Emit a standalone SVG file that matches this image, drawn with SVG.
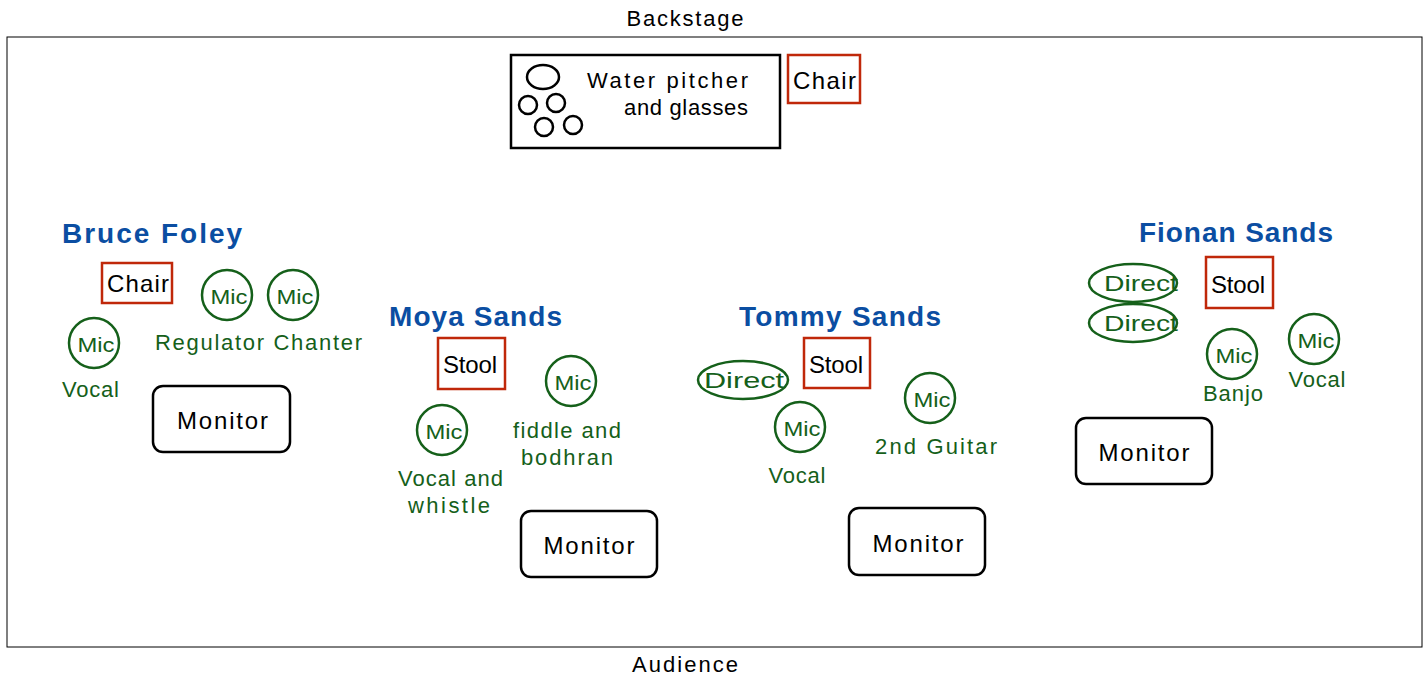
<svg xmlns="http://www.w3.org/2000/svg" width="1425" height="677" viewBox="0 0 1425 677">
<style>
text{font-family:"Liberation Sans","DejaVu Sans",sans-serif;}
.lbl{font-size:22px;fill:#000;text-anchor:middle;}
.name{font-size:28px;font-weight:bold;fill:#0b4ea2;}
.g{font-size:22px;fill:#15601a;text-anchor:middle;}
.mic{fill:none;stroke:#15601a;stroke-width:2.5;}
.mt{font-size:21px;fill:#15601a;text-anchor:middle;}
.dt{font-size:22px;fill:#15601a;text-anchor:middle;}
.furn{fill:#fff;stroke:#c0280a;stroke-width:2.5;}
.mon{fill:#fff;stroke:#000;stroke-width:2.5;}
.glass{fill:none;stroke:#000;stroke-width:2.5;}
</style>
<rect width="1425" height="677" fill="#fff"/>
<rect x="7" y="37" width="1415" height="610" fill="none" stroke="#000" stroke-width="1"/>
<text class="lbl" x="685" y="26" textLength="117" lengthAdjust="spacing">Backstage</text>
<text class="lbl" x="685" y="672" textLength="106" lengthAdjust="spacing">Audience</text>

<g id="water">
<rect x="511" y="55" width="269" height="93" fill="#fff" stroke="#000" stroke-width="2.5"/>
<ellipse class="glass" cx="543" cy="77" rx="16" ry="12"/>
<circle class="glass" cx="528" cy="105" r="9"/>
<circle class="glass" cx="556" cy="103" r="9"/>
<circle class="glass" cx="544" cy="127" r="9"/>
<circle class="glass" cx="573" cy="125" r="9"/>
<text class="lbl" x="667.5" y="88" textLength="161" lengthAdjust="spacing">Water pitcher</text>
<text class="lbl" x="686" y="115" textLength="124" lengthAdjust="spacing">and glasses</text>
</g>
<g id="chair-top">
<rect class="furn" x="788" y="55" width="72" height="48"/>
<text class="lbl" x="824.5" y="89" style="font-size:24px" textLength="63" lengthAdjust="spacing">Chair</text>
</g>

<g id="bruce">
<text class="name" x="62" y="243" textLength="180" lengthAdjust="spacing">Bruce Foley</text>
<rect class="furn" x="102" y="263" width="70" height="40"/>
<text class="lbl" x="138" y="292" style="font-size:24px" textLength="62" lengthAdjust="spacing">Chair</text>
<circle class="mic" cx="227" cy="295" r="25"/><text class="mt" x="229" y="304" textLength="37" lengthAdjust="spacingAndGlyphs">Mic</text>
<circle class="mic" cx="293" cy="295" r="25"/><text class="mt" x="295" y="304" textLength="37" lengthAdjust="spacingAndGlyphs">Mic</text>
<text class="g" x="258.5" y="350" textLength="207" lengthAdjust="spacing">Regulator Chanter</text>
<circle class="mic" cx="94" cy="343" r="25"/><text class="mt" x="96" y="352" textLength="37" lengthAdjust="spacingAndGlyphs">Mic</text>
<text class="g" x="90.5" y="397" textLength="57" lengthAdjust="spacing">Vocal</text>
<rect class="mon" x="153" y="386" width="137" height="66" rx="10"/>
<text class="lbl" x="222.5" y="429" style="font-size:24px" textLength="91" lengthAdjust="spacing">Monitor</text>
</g>

<g id="moya">
<text class="name" x="389" y="326" textLength="173" lengthAdjust="spacing">Moya Sands</text>
<rect class="furn" x="438" y="338" width="67" height="51"/>
<text class="lbl" x="470" y="373" style="font-size:24px" textLength="54" lengthAdjust="spacing">Stool</text>
<circle class="mic" cx="571" cy="381" r="25"/><text class="mt" x="573" y="390" textLength="37" lengthAdjust="spacingAndGlyphs">Mic</text>
<text class="g" x="567" y="438" textLength="108" lengthAdjust="spacing">fiddle and</text>
<text class="g" x="567" y="465" textLength="92" lengthAdjust="spacing">bodhran</text>
<circle class="mic" cx="442" cy="430" r="25"/><text class="mt" x="444" y="439" textLength="37" lengthAdjust="spacingAndGlyphs">Mic</text>
<text class="g" x="450.5" y="486" textLength="105" lengthAdjust="spacing">Vocal and</text>
<text class="g" x="449" y="513" textLength="82" lengthAdjust="spacing">whistle</text>
<rect class="mon" x="521" y="511" width="136" height="66" rx="10"/>
<text class="lbl" x="589" y="554" style="font-size:24px" textLength="91" lengthAdjust="spacing">Monitor</text>
</g>

<g id="tommy">
<text class="name" x="739" y="326" textLength="202" lengthAdjust="spacing">Tommy Sands</text>
<rect class="furn" x="804" y="338" width="66" height="50"/>
<text class="lbl" x="836" y="373" style="font-size:24px" textLength="54" lengthAdjust="spacing">Stool</text>
<ellipse class="mic" cx="743" cy="380" rx="45" ry="19"/><text class="dt" x="744" y="388" textLength="80" lengthAdjust="spacingAndGlyphs">Direct</text>
<circle class="mic" cx="800" cy="427" r="25"/><text class="mt" x="802" y="436" textLength="37" lengthAdjust="spacingAndGlyphs">Mic</text>
<text class="g" x="797" y="483" textLength="57" lengthAdjust="spacing">Vocal</text>
<circle class="mic" cx="930" cy="398" r="25"/><text class="mt" x="932" y="407" textLength="37" lengthAdjust="spacingAndGlyphs">Mic</text>
<text class="g" x="936" y="454" textLength="122" lengthAdjust="spacing">2nd Guitar</text>
<rect class="mon" x="849" y="508" width="136" height="67" rx="10"/>
<text class="lbl" x="918" y="552" style="font-size:24px" textLength="91" lengthAdjust="spacing">Monitor</text>
</g>

<g id="fionan">
<text class="name" x="1139" y="242" textLength="194" lengthAdjust="spacing">Fionan Sands</text>
<rect class="furn" x="1206" y="257" width="67" height="51"/>
<text class="lbl" x="1238" y="293" style="font-size:24px" textLength="54" lengthAdjust="spacing">Stool</text>
<ellipse class="mic" cx="1133" cy="283" rx="44" ry="19"/><text class="dt" x="1141" y="291" textLength="74" lengthAdjust="spacingAndGlyphs">Direct</text>
<ellipse class="mic" cx="1133" cy="323" rx="44" ry="19"/><text class="dt" x="1141" y="331" textLength="74" lengthAdjust="spacingAndGlyphs">Direct</text>
<circle class="mic" cx="1232" cy="354" r="25"/><text class="mt" x="1234" y="363" textLength="37" lengthAdjust="spacingAndGlyphs">Mic</text>
<text class="g" x="1233" y="401" textLength="60" lengthAdjust="spacing">Banjo</text>
<circle class="mic" cx="1314" cy="339" r="25"/><text class="mt" x="1316" y="348" textLength="37" lengthAdjust="spacingAndGlyphs">Mic</text>
<text class="g" x="1317" y="387" textLength="57" lengthAdjust="spacing">Vocal</text>
<rect class="mon" x="1076" y="418" width="136" height="66" rx="10"/>
<text class="lbl" x="1144" y="461" style="font-size:24px" textLength="91" lengthAdjust="spacing">Monitor</text>
</g>
<g id="connectors"/>
</svg>
